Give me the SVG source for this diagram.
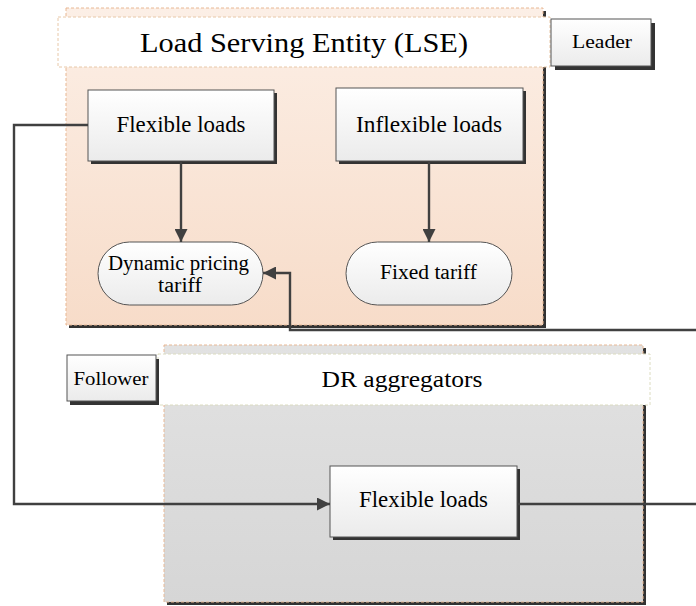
<svg xmlns="http://www.w3.org/2000/svg" width="696" height="606" viewBox="0 0 696 606">
<defs>
<linearGradient id="peach" x1="0" y1="0" x2="0" y2="1"><stop offset="0" stop-color="#fcefe6"/><stop offset="1" stop-color="#f7dcc9"/></linearGradient>
<linearGradient id="grey" x1="0" y1="0" x2="0" y2="1"><stop offset="0" stop-color="#e2e2e2"/><stop offset="1" stop-color="#d6d6d6"/></linearGradient>
<linearGradient id="box" x1="0" y1="0" x2="0" y2="1"><stop offset="0" stop-color="#ffffff"/><stop offset="1" stop-color="#ebebeb"/></linearGradient>
<marker id="arr" viewBox="0 0 10 10" refX="10" refY="5" markerWidth="14" markerHeight="13" markerUnits="userSpaceOnUse" orient="auto"><path d="M0,0 L10,5 L0,10 z" fill="#404040"/></marker>
</defs>
<style>
.shadow{fill:#333}
.cont{stroke:#e8b894;stroke-width:1;stroke-dasharray:3,2}
.bar{fill:#fff;stroke:#e8c8a8;stroke-width:1;stroke-dasharray:3,2}
.node{fill:url(#box);stroke:#555;stroke-width:1}
.conn{fill:none;stroke:#404040;stroke-width:2.4}
</style>
<rect width="696" height="606" fill="#fff"/>
<g font-family="'Liberation Serif', 'Times New Roman', serif" text-anchor="middle" fill="#000" lengthAdjust="spacingAndGlyphs">

<g id="lse">
<rect x="69" y="11" width="477" height="317" class="shadow"/>
<rect x="66" y="8" width="477" height="317" fill="url(#peach)" class="cont"/>
<rect x="58" y="17" width="492" height="50" class="bar"/>
<text x="304" y="52" font-size="27" textLength="328" lengthAdjust="spacingAndGlyphs">Load Serving Entity (LSE)</text>
</g>

<g id="leader">
<rect x="555" y="23" width="100" height="47" class="shadow"/>
<rect x="551" y="19" width="100" height="47" class="node"/>
<text x="602" y="48" font-size="19" textLength="60" lengthAdjust="spacingAndGlyphs">Leader</text>
</g>

<g id="dr">
<rect x="167" y="348" width="479" height="257" class="shadow"/>
<rect x="164" y="345" width="479" height="257" fill="url(#grey)" class="cont"/>
<rect x="158" y="354" width="492" height="51" class="bar" style="stroke:#dcdcc0"/>
<text x="402" y="387" font-size="23" textLength="161" lengthAdjust="spacingAndGlyphs">DR aggregators</text>
</g>

<g id="follower">
<rect x="70" y="359" width="89" height="46" class="shadow"/>
<rect x="67" y="355" width="89" height="46" class="node"/>
<text x="111" y="385" font-size="19.5" textLength="75" lengthAdjust="spacingAndGlyphs">Follower</text>
</g>

<g id="flex-top">
<rect x="91" y="93" width="186" height="71" class="shadow"/>
<rect x="88" y="90" width="186" height="71" class="node"/>
<text x="181" y="132" font-size="22.5" textLength="129" lengthAdjust="spacingAndGlyphs">Flexible loads</text>
</g>

<g id="inflex">
<rect x="339" y="91" width="187" height="73" class="shadow"/>
<rect x="336" y="88" width="187" height="73" class="node"/>
<text x="429" y="132" font-size="22.5" textLength="146" lengthAdjust="spacingAndGlyphs">Inflexible loads</text>
</g>

<g id="dynamic">
<rect x="98" y="242" width="165" height="63" rx="31.5" fill="url(#box)" stroke="#555" stroke-width="1"/>
<text x="178.5" y="270" font-size="20.5" textLength="141" lengthAdjust="spacingAndGlyphs">Dynamic pricing</text>
<text x="180" y="292" font-size="20.5" textLength="44" lengthAdjust="spacingAndGlyphs">tariff</text>
</g>

<g id="fixed">
<rect x="346" y="242" width="166" height="63" rx="31.5" fill="url(#box)" stroke="#555" stroke-width="1"/>
<text x="428.5" y="279" font-size="20.5" textLength="97" lengthAdjust="spacingAndGlyphs">Fixed tariff</text>
</g>

<g id="flex-dr">
<rect x="333" y="469" width="187" height="71" class="shadow"/>
<rect x="330" y="466" width="187" height="71" class="node"/>
<text x="423.5" y="507" font-size="22.5" textLength="129" lengthAdjust="spacingAndGlyphs">Flexible loads</text>
</g>
</g>

<g id="connectors">
<path class="conn" d="M181,161 L181,242" marker-end="url(#arr)"/>
<path class="conn" d="M429,161 L429,242" marker-end="url(#arr)"/>
<path class="conn" d="M88,125 L14,125 L14,504 L330,504" marker-end="url(#arr)"/>
<path class="conn" d="M517,504 L700,504"/>
<path class="conn" d="M700,330 L290,330 L290,273 L263,273" marker-end="url(#arr)"/>
</g>
</svg>
